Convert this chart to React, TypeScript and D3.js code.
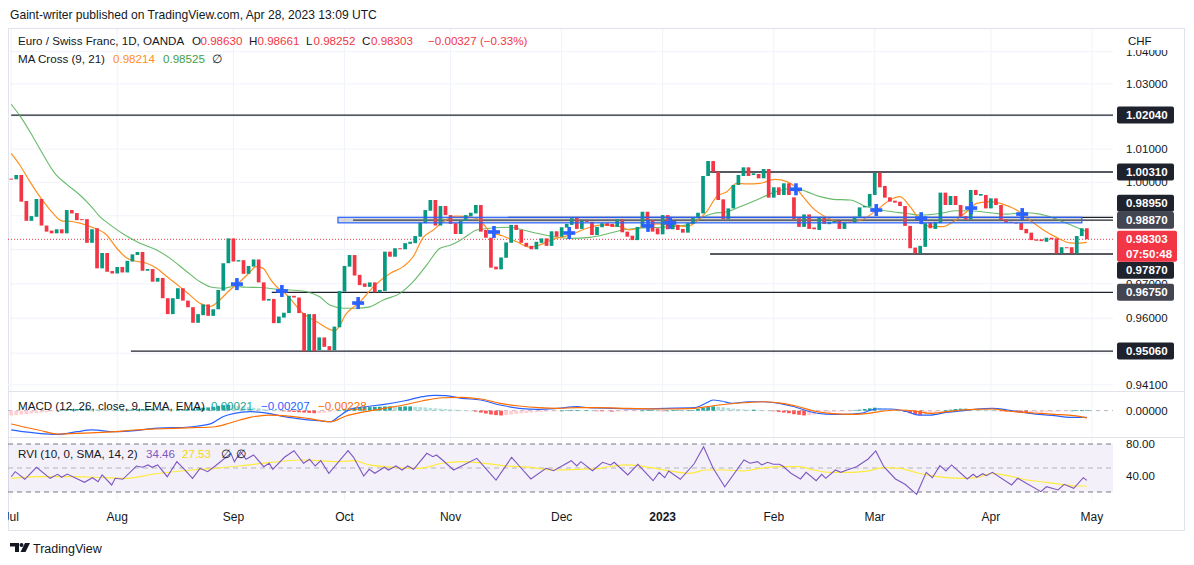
import React from 'react';
import * as d3 from 'd3';

// ---------- DATA ----------
const monthTicks: [number, string][] = [
  [0, 'Jul'], [21, 'Aug'], [44, 'Sep'], [66, 'Oct'], [87, 'Nov'], [109, 'Dec'],
  [129, '2023'], [151, 'Feb'], [171, 'Mar'], [194, 'Apr'], [214, 'May'],
];

const opens = [
  1.0011, 1.0009, 1.0022, 0.9944, 0.9885, 0.9897, 0.9950, 0.9871, 0.9856, 0.9848,
  0.9860, 0.9848, 0.9917, 0.9908, 0.9890, 0.9890, 0.9820, 0.9863, 0.9745, 0.9790,
  0.9737, 0.9730, 0.9749, 0.9733, 0.9765, 0.9784, 0.9793, 0.9738, 0.9743, 0.9706,
  0.9717, 0.9658, 0.9612, 0.9656, 0.9687, 0.9651, 0.9632, 0.9587, 0.9609, 0.9640,
  0.9607, 0.9626, 0.9680, 0.9760, 0.9833, 0.9765, 0.9769, 0.9729, 0.9750, 0.9771,
  0.9704, 0.9651, 0.9656, 0.9586, 0.9602, 0.9615, 0.9665, 0.9660, 0.9615, 0.9506,
  0.9612, 0.9509, 0.9545, 0.9520, 0.9508, 0.9574, 0.9677, 0.9750, 0.9784, 0.9726,
  0.9701, 0.9691, 0.9704, 0.9675, 0.9679, 0.9794, 0.9779, 0.9804, 0.9801, 0.9817,
  0.9819, 0.9838, 0.9878, 0.9915, 0.9947, 0.9871, 0.9929, 0.9902, 0.9878, 0.9846,
  0.9885, 0.9899, 0.9907, 0.9932, 0.9858, 0.9835, 0.9750, 0.9742, 0.9776, 0.9820,
  0.9873, 0.9858, 0.9820, 0.9811, 0.9801, 0.9820, 0.9833, 0.9811, 0.9854, 0.9838,
  0.9865, 0.9873, 0.9894, 0.9861, 0.9885, 0.9882, 0.9843, 0.9866, 0.9878, 0.9876,
  0.9867, 0.9890, 0.9853, 0.9841, 0.9828, 0.9866, 0.9912, 0.9887, 0.9863, 0.9845,
  0.9902, 0.9860, 0.9873, 0.9861, 0.9850, 0.9876, 0.9893, 0.9907, 1.0019, 1.0064,
  1.0032, 0.9949, 0.9890, 0.9922, 0.9992, 1.0019, 1.0045, 1.0022, 1.0025, 1.0012,
  1.0040, 0.9954, 0.9985, 0.9962, 0.9997, 0.9955, 0.9893, 0.9867, 0.9904, 0.9865,
  0.9858, 0.9894, 0.9875, 0.9879, 0.9885, 0.9861, 0.9882, 0.9879, 0.9897, 0.9925,
  0.9927, 0.9962, 1.0029, 0.9989, 0.9955, 0.9945, 0.9942, 0.9929, 0.9870, 0.9806,
  0.9789, 0.9808, 0.9880, 0.9861, 0.9878, 0.9969, 0.9932, 0.9959, 0.9932, 0.9899,
  0.9889, 0.9977, 0.9960, 0.9962, 0.9922, 0.9952, 0.9932, 0.9889, 0.9882, 0.9880,
  0.9879, 0.9861, 0.9850, 0.9830, 0.9830, 0.9823, 0.9835, 0.9833, 0.9789, 0.9807,
  0.9807, 0.9789, 0.9840, 0.98630,
];

const closes = [
  1.0008, 1.0022, 0.9942, 0.9885, 0.9899, 0.9950, 0.9871, 0.9853, 0.9848, 0.9860,
  0.9848, 0.9917, 0.9907, 0.9887, 0.9888, 0.9820, 0.9860, 0.9745, 0.9790, 0.9735,
  0.9730, 0.9749, 0.9733, 0.9767, 0.9786, 0.9793, 0.9738, 0.9743, 0.9706, 0.9717,
  0.9658, 0.9612, 0.9658, 0.9687, 0.9651, 0.9632, 0.9587, 0.9612, 0.9640, 0.9607,
  0.9626, 0.9682, 0.9760, 0.9833, 0.9765, 0.9769, 0.9729, 0.9752, 0.9771, 0.9704,
  0.9651, 0.9656, 0.9586, 0.9605, 0.9616, 0.9665, 0.9660, 0.9615, 0.9506, 0.9612,
  0.9506, 0.9545, 0.9518, 0.9508, 0.9576, 0.9679, 0.9752, 0.9784, 0.9724, 0.9696,
  0.9691, 0.9704, 0.9675, 0.9682, 0.9794, 0.9779, 0.9804, 0.9801, 0.9819, 0.9823,
  0.9840, 0.9880, 0.9917, 0.9947, 0.9871, 0.9929, 0.9902, 0.9876, 0.9846, 0.9887,
  0.9902, 0.9909, 0.9932, 0.9853, 0.9835, 0.9747, 0.9742, 0.9777, 0.9821, 0.9873,
  0.9858, 0.9820, 0.9809, 0.9801, 0.9823, 0.9833, 0.9811, 0.9854, 0.9838, 0.9866,
  0.9876, 0.9893, 0.9861, 0.9885, 0.9882, 0.9843, 0.9867, 0.9878, 0.9870, 0.9867,
  0.9890, 0.9851, 0.9838, 0.9828, 0.9867, 0.9912, 0.9887, 0.9853, 0.9845, 0.9902,
  0.9860, 0.9878, 0.9858, 0.9850, 0.9878, 0.9896, 0.9909, 1.0019, 1.0064, 1.0032,
  0.9947, 0.9890, 0.9922, 0.9992, 1.0022, 1.0045, 1.0019, 1.0027, 1.0012, 1.0040,
  0.9954, 0.9985, 0.9962, 0.9997, 0.9962, 0.9890, 0.9867, 0.9904, 0.9861, 0.9860,
  0.9894, 0.9876, 0.9882, 0.9885, 0.9861, 0.9882, 0.9879, 0.9897, 0.9925, 0.9929,
  0.9965, 1.0029, 0.9985, 0.9954, 0.9942, 0.9939, 0.9929, 0.9870, 0.9804, 0.9789,
  0.9811, 0.9878, 0.9863, 0.9882, 0.9969, 0.9932, 0.9959, 0.9932, 0.9897, 0.9889,
  0.9977, 0.9962, 0.9965, 0.9922, 0.9952, 0.9932, 0.9887, 0.9880, 0.9879, 0.9877,
  0.9858, 0.9848, 0.9828, 0.9826, 0.9825, 0.9835, 0.9830, 0.9789, 0.9807, 0.9805,
  0.9789, 0.9840, 0.9863, 0.98303,
];

const lastHigh = 0.98661;
const lastLow = 0.98252;
const countdown = '07:50:48';

// MA(9) and MA(21): [bar, price]
const ma9Pts: [number, number][] = [
  [0, 1.0087], [1.7, 1.0052], [3.7, 1.0002], [6.4, 0.9942], [8.3, 0.9907], [10, 0.9885], [12, 0.9883],
  [13.6, 0.9878], [15.6, 0.9868], [18.9, 0.9843], [20.9, 0.9804], [22.9, 0.9775], [24.9, 0.9765],
  [26.8, 0.976], [28.8, 0.9745], [30.8, 0.9721], [33.4, 0.9691], [35.4, 0.9667], [37.4, 0.9643],
  [39.4, 0.9634], [41.3, 0.9653], [43.3, 0.9682], [45.3, 0.9706], [47, 0.973], [48.6, 0.975],
  [49.9, 0.9745], [51.2, 0.9716], [52.9, 0.9687], [53.9, 0.9677], [57.8, 0.9614], [60.5, 0.959],
  [64.1, 0.9564], [66.4, 0.9614], [69.1, 0.9648], [71.7, 0.9691], [75, 0.973], [77.6, 0.975],
  [79.6, 0.9779], [81.6, 0.9836], [83.6, 0.9858], [85.6, 0.9883], [88.2, 0.9899], [90.9, 0.9897],
  [92.8, 0.9887], [94.8, 0.9853], [97.4, 0.984], [100.1, 0.9823], [102.7, 0.9807], [104.7, 0.9814],
  [107, 0.9829], [110.7, 0.9843], [114, 0.9863], [117.2, 0.9873], [120.6, 0.9868], [122.5, 0.9858],
  [125.2, 0.9868], [127.8, 0.9876], [131.1, 0.9873], [133.8, 0.9868], [135.7, 0.9883], [137.7, 0.9912],
  [139.7, 0.9957], [141.7, 0.9972], [143.7, 0.9997], [145.6, 0.9995], [148.3, 0.9997], [151.2, 1.0009],
  [153.6, 1.0002], [155.2, 0.9987], [156.8, 0.9957], [158.8, 0.9922], [161.5, 0.9895], [164.8, 0.988],
  [168.1, 0.9886], [171.4, 0.9917], [174, 0.9947], [176, 0.9957], [178, 0.9927], [180, 0.9887],
  [182, 0.9868], [184.6, 0.9868], [186.6, 0.9883], [189.2, 0.9912], [191.2, 0.9937], [193.8, 0.9942],
  [196.5, 0.9934], [199.1, 0.9917], [201.7, 0.9887], [204.4, 0.9858], [207, 0.9836], [209.6, 0.982],
  [211.6, 0.9819], [213, 0.98214],
];

const ma21Pts: [number, number][] = [
  [0, 1.0237], [1.7, 1.0202], [4.1, 1.0143], [6, 1.0092], [8.9, 1.0022], [11, 0.9994], [13.6, 0.9962],
  [15.6, 0.9932], [17.6, 0.9897], [19.6, 0.9873], [22.5, 0.9843], [25.5, 0.9819], [28.8, 0.9799],
  [31.4, 0.9775], [34.8, 0.9735], [37.4, 0.9706], [40, 0.9689], [42, 0.9687], [44, 0.9692],
  [46.6, 0.969], [49.3, 0.9689], [52.9, 0.9684], [55.2, 0.9682], [58.5, 0.9677], [61.1, 0.9662],
  [63.1, 0.9638], [65.8, 0.9629], [68.4, 0.9629], [71, 0.9633], [73.7, 0.9653], [77, 0.9672],
  [79.6, 0.9706], [82.3, 0.9755], [84.9, 0.9804], [87.2, 0.9814], [89.5, 0.9833], [92.2, 0.9858],
  [94.8, 0.9863], [98.8, 0.9866], [101.4, 0.9858], [104.1, 0.9848], [106.6, 0.984], [110.7, 0.9833],
  [114.6, 0.9836], [117.9, 0.9846], [121.2, 0.9858], [124.5, 0.9863], [131.1, 0.9868], [133.8, 0.9873],
  [136.4, 0.9893], [139, 0.9907], [141.7, 0.9912], [144.3, 0.9927], [147.6, 0.9947], [150.9, 0.9969],
  [154.9, 0.9983], [157.5, 0.9972], [160.2, 0.9957], [162.8, 0.9949], [166.1, 0.9947], [169.4, 0.9927],
  [173.4, 0.9914], [177.3, 0.9907], [180, 0.9902], [183.9, 0.9907], [187.2, 0.9915], [190.5, 0.9914],
  [193.8, 0.9909], [197.1, 0.9905], [200.4, 0.9909], [203.7, 0.9905], [206.4, 0.9893], [209, 0.9878],
  [213, 0.98525],
];

// MA cross markers: [bar, price]
const crossPts: [number, number][] = [
  [44.7, 0.9699], [53.6, 0.9679], [68.7, 0.9644], [95.6, 0.9852], [110.5, 0.9849], [126.1, 0.987],
  [130.5, 0.9879], [155.4, 0.9979], [171.3, 0.9917], [180.2, 0.9893], [190.1, 0.9923], [200.2, 0.9905],
];

// Horizontal drawings: price, starting bar
const levelPrices = [1.0204, 1.0031, 0.9895, 0.9887, 0.9787, 0.9675, 0.9506];
const levelStarts = [0, 138.4, 98.4, 67.7, 138.4, 51.6, 23.7];
const zone = { top: 0.98955, bottom: 0.9879, from: 64.7, to: 212 };

const priceTicks = [1.04, 1.03, 1.02, 1.01, 1.0, 0.99, 0.98, 0.97, 0.96, 0.95, 0.941];

// MACD
const macdPts: [number, number][] = [
  [0, -0.006], [2.3, -0.00655], [5.4, -0.00705], [9.2, -0.00736], [13, -0.00655], [16, -0.006],
  [20.6, -0.00655], [24.4, -0.00624], [28.3, -0.0055], [32, -0.00531], [35.8, -0.005], [39.7, -0.00394],
  [41.9, -0.00189], [44.2, -0.00084], [47.3, -0.00034], [51, -0.00084], [54.1, -0.00189], [57.9, -0.0027],
  [61, -0.00314], [63.3, -0.00345], [64.8, -0.00189], [67.1, 0.0004], [70.1, 0.00121], [73.9, 0.00196],
  [77.7, 0.00298], [81.5, 0.00432], [83.8, 0.00475], [86.1, 0.00463], [89.2, 0.00382], [93, 0.00329],
  [96.8, 0.00174], [100.6, 0.00071], [104.4, 0.0004], [108.2, 0.00071], [112, 0.00121], [114.4, 0.0009],
  [119.1, 0.00071], [123.7, 0.0005], [129.8, 0.00071], [135.2, 0.0009], [137.5, 0.00227], [139, 0.00329],
  [140.6, 0.00298], [142.9, 0.00227], [145.9, 0.00276], [149, 0.00276], [152.1, 0.00227], [155.1, 0.00121],
  [158.2, -0.00034], [161.3, -0.00106], [165.1, -0.00115], [168.2, -0.00084], [171.3, 0.0005], [174.3, 0.0005],
  [177.4, -0.00034], [179.7, -0.00137], [182, -0.00137], [185.1, -0.00053], [188.1, -0.00012], [191.2, 0.0005],
  [194.3, 0.00071], [197.3, 0.00019], [200.4, -0.00053], [203.5, -0.00115], [206.6, -0.00158], [209.6, -0.00208],
  [213, -0.00207],
];
const signalPts: [number, number][] = [
  [0, -0.00416], [2.3, -0.005], [5.4, -0.00602], [9.2, -0.00726], [13, -0.00705], [16.8, -0.00686],
  [20.6, -0.00655], [24.4, -0.00602], [28.3, -0.00571], [32, -0.0055], [35.8, -0.00531], [40.4, -0.005],
  [43.5, -0.00376], [47.3, -0.00208], [51, -0.00137], [54.9, -0.00168], [58.7, -0.00239], [63.3, -0.00345],
  [66.3, -0.00168], [70.1, -0.00034], [73.9, 0.00071], [77.7, 0.00174], [81.5, 0.00307], [85.4, 0.004],
  [89.2, 0.00413], [93, 0.0036], [96.8, 0.00227], [100.6, 0.00143], [104.4, 0.0009], [108.2, 0.00071],
  [112, 0.0009], [115.8, 0.0009], [122.1, 0.00071], [129.8, 0.0005], [135.2, 0.00071], [139, 0.00152],
  [142.1, 0.00205], [145.1, 0.00245], [149, 0.00276], [152.8, 0.00227], [155.9, 0.00121], [159, -0.00012],
  [162, -0.00084], [166.7, -0.00115], [169.7, -0.00084], [172.8, -0.00012], [175.9, 0.00019], [179, -0.00012],
  [182, -0.00084], [185.1, -0.00034], [188.1, 0.00019], [191.2, 0.0004], [194.3, 0.0005], [197.3, -0.00012],
  [200.4, -0.00053], [203.5, -0.00084], [206.6, -0.00115], [210.4, -0.00158], [213, -0.00228],
];
const macdHist = [
  -0.0015, -0.0014, -0.0012, -0.0011, -0.0009, -0.0008, -0.0006, -0.0005, -0.0003, -0.0001,
  0.0002, 0.0003, 0.0004, 0.0005, 0.0005, 0.0006, 0.0005, 0.0004, 0.0003, 0.0002, 0.0001, 0.0001, 0.0002, 0.0003, 0.0004, 0.0004,
  0.0005, 0.0006, 0.0006, 0.0005, 0.0005, 0.0004, 0.0003, 0.0003, 0.0004, 0.0005, 0.0006, 0.0008, 0.0009, 0.001, 0.0012, 0.0015,
  0.0017, 0.0018, 0.0017, 0.0015, 0.0013, 0.0011, 0.0009, 0.0007, 0.0005, 0.0004, 0.0002, 0.0,
  -0.0002, -0.0003, -0.0004, -0.0005, -0.0006, -0.0007, -0.0008, -0.0008, -0.0007, -0.0005, -0.0002, 0.0002, 0.0005,
  0.0007, 0.0009, 0.001, 0.0011, 0.0011, 0.0012, 0.0012, 0.0013, 0.0013, 0.0012, 0.0012, 0.0013, 0.0013, 0.0012, 0.0011, 0.001, 0.0008, 0.0007,
  0.0006, 0.0005, 0.0004, 0.0003, 0.0002, 0.0001, 0.0, -0.0003, -0.0006, -0.0009,
  -0.0012, -0.0014, -0.0015, -0.0014, -0.0012, -0.001, -0.0008, -0.0007, -0.0006, -0.0005, -0.0004, -0.0003, -0.0002, -0.0001, 0.0, 0.0001, 0.0002, 0.0002, 0.0001,
  0.0001, 0.0, -0.0001, -0.0002, -0.0002, -0.0003, -0.0003, -0.0002, -0.0002, -0.0001, -0.0001, 0.0, 0.0001, 0.0001, 0.0, -0.0001, 0.0, 0.0001, 0.0001, 0.0, 0.0001, 0.0002,
  0.0005, 0.0008, 0.0011, 0.0013, 0.0012, 0.001, 0.0008, 0.0006, 0.0005, 0.0004, 0.0003, 0.0003, 0.0002, 0.0001, 0.0,
  -0.0002, -0.0004, -0.0006, -0.0008, -0.0011, -0.0013, -0.0015, -0.0014, -0.0012, -0.001, -0.0008, -0.0006, -0.0004, -0.0003, -0.0002, -0.0001, 0.0001, 0.0003,
  0.0005, 0.0007, 0.0009, 0.0008, 0.0006, 0.0004, 0.0002, 0.0,
  -0.0004, -0.0008, -0.0012, -0.0013, -0.0011, -0.0008, -0.0005,
  -0.0002, 0.0001, 0.0003, 0.0005, 0.0006, 0.0006, 0.0005, 0.0004, 0.0003, 0.0002, 0.0001, 0.0, -0.0001,
  -0.0003, -0.0004, -0.0005, -0.0006, -0.0007, -0.0007, -0.0006, -0.0006, -0.0005, -0.0004, -0.0003, -0.0002, -0.0001,
  0.0, 0.0001, 0.0002, 0.00021,
];

// RVI
const rviPts: [number, number][] = [
  [0, 39.1], [0.8, 45.4], [2.7, 35.9], [5, 50.9], [7.7, 37.1], [9.2, 42.1], [10, 38.4], [11.1, 42.5],
  [14.5, 32.1], [16.1, 37.9], [17.2, 32.9], [18, 41.3], [19.9, 28.8], [20.6, 37.1], [22.1, 35.9],
  [24.8, 52.5], [26, 50.9], [27.1, 53.8], [27.9, 50.9], [29, 53.8], [30.9, 39.1], [32.8, 57.9],
  [34.3, 48.4], [35.9, 37.1], [37.4, 49.6], [38.9, 45.4], [40.4, 52.5], [43.5, 68.4], [44.2, 57.9],
  [45.4, 70.4], [46.5, 60.9], [48, 66.3], [50, 51.6], [51.1, 55.9], [51.8, 48.4], [54.1, 63.4],
  [56, 71.6], [57.9, 55.9], [59.1, 60.9], [60.2, 52.5], [61.3, 59.1], [62.9, 43.4], [66.7, 71.6],
  [67.8, 63.4], [69.8, 40], [70.9, 48.4], [72, 43.4], [73.9, 50.9], [74.7, 47.5], [76.2, 52.5],
  [77.4, 47.5], [78.5, 52.5], [79.7, 48.4], [82.3, 68.4], [83.5, 64.1], [84.2, 66.3], [85.4, 60],
  [87.6, 47.5], [92.2, 62.1], [96, 35], [99.1, 63.4], [100.6, 52.5], [102.9, 36.3], [105.9, 49.6],
  [107.4, 46.6], [110.9, 59.1], [112, 52.5], [112.8, 57.9], [115.1, 46.6], [117.1, 57.1], [118.7, 53.8],
  [119.4, 57.1], [122.1, 41.3], [124.1, 54.6], [127.1, 34.1], [128.3, 44.6], [129.4, 37.9], [130.2, 46.3],
  [132.5, 35.9], [135.2, 55], [137.1, 76.6], [139, 49.6], [141.3, 26.6], [145.1, 60], [146.3, 55.9],
  [147.8, 57.9], [148.6, 53.8], [149.8, 57.1], [150.9, 54.6], [152.1, 54.6], [152.8, 52.5], [154.4, 43.4],
  [156.3, 36.3], [157.4, 44.6], [159.4, 34.1], [160.5, 42.1], [161.3, 37.1], [163.2, 47.5], [164.3, 44.6],
  [165.5, 47.5], [167.4, 51.6], [169.7, 61.3], [171.2, 71.3], [172.8, 51.6], [175.1, 36.3], [177, 29.6],
  [179.3, 17.1], [181.2, 44.6], [182.4, 37.9], [183.9, 52.9], [185.1, 46.3], [186.2, 53.8], [189.3, 36.3],
  [190.5, 42.1], [191.2, 38.4], [192.4, 42.9], [193.1, 40.4], [194.3, 44.6], [198.1, 28.8], [199.3, 37.1],
  [203.9, 20.4], [205, 26.6], [207.3, 22.5], [208.5, 29.6], [210.4, 24.6], [212.3, 37.9], [213, 34.46],
];
const rviSignalPts: [number, number][] = [
  [0, 37.1], [5.4, 39.1], [13, 39.1], [18.4, 37.9], [22.9, 37.1], [28.3, 42.5], [35.8, 47.5], [40.4, 49.6],
  [45, 52.5], [51, 56.6], [57.2, 60], [61, 59.1], [64.8, 57.9], [67.8, 59.1], [70.9, 53.8], [75.5, 50.9],
  [80.8, 49.6], [85.4, 55.9], [89.2, 57.9], [93.7, 55.9], [98.3, 52.5], [102.9, 50.9], [107.4, 47.5],
  [112, 48.4], [116.6, 49.6], [118.3, 51.6], [122.1, 53.8], [126.7, 50.4], [131.3, 45.4], [134.4, 43.4],
  [137.5, 47.5], [141.3, 47.5], [145.1, 46.3], [148.2, 49.6], [152.8, 51.6], [155.9, 51.6], [159, 47.5],
  [162, 44.6], [166.7, 44.6], [169.7, 46.3], [172.8, 50.4], [175.9, 49.6], [179.7, 43.4], [183.5, 39.1],
  [188.1, 37.1], [191.2, 37.9], [194.3, 43.4], [197.3, 40.4], [201.2, 35], [205, 32.1], [208.8, 28.8],
  [211.1, 27.5], [213, 27.53],
];
const rviBands = [80, 50, 20];

// ---------- LAYOUT / STYLE ----------
const W = 1194, H = 565;
const FONT = '"Liberation Sans", Arial, sans-serif';
const TXT = '#131722';
const UP = '#089981', DOWN = '#f23645';
const FL = 8, FR = 1185, FT = 28, FB = 531;
const PR = 1113;
const mainTop = 29, mainBot = 391, macdBot = 437, rviBot = 500;
const GRID = '#f0f3fa';
const LEG = 11.6;
const lighter = new Set([0.9887, 0.9675]);

export default function App() {
  const n = closes.length;
  const x = d3.scaleLinear().domain([0, 213]).range([11.2, 1086.85]);
  const y = d3.scaleLog().domain([1.0, 0.95]).range([182.3, 353.16]);
  const yM = d3.scaleLinear().domain([-0.0085, 0.0064]).range([438, 390]);
  const yR = d3.scaleLinear().domain([80, 20]).range([444, 492]);
  const f5 = d3.format('.5f');
  const f2 = d3.format('.2f');
  const minus = (s: string) => s.replace('-', '\u2212');

  const smooth = (sc: any) => d3.line<[number, number]>().x(d => x(d[0])).y(d => sc(d[1])).curve(d3.curveMonotoneX);
  const straight = (sc: any) => d3.line<[number, number]>().x(d => x(d[0])).y(d => sc(d[1]));

  const last = closes[n - 1];
  const change = last - closes[n - 2];
  const pct = (change / closes[n - 2]) * 100;

  // price labels with collision avoidance around the current price label
  const curY = y(last);
  const curTop = curY - 8.5, curBot = curY + 22.5;
  const LH = 17;
  const lab = levelPrices.map(p => ({ p, yc: y(p) }));
  const above = lab.filter(l => l.yc < curY).sort((a, b) => b.yc - a.yc);
  const below = lab.filter(l => l.yc >= curY).sort((a, b) => a.yc - b.yc);
  let lim = curTop;
  const placed: { p: number; yc: number }[] = [];
  above.forEach(l => {
    const bot = Math.min(l.yc + LH / 2, lim);
    placed.push({ p: l.p, yc: bot - LH / 2 });
    lim = bot - LH;
  });
  lim = curBot;
  below.forEach(l => {
    const top = Math.max(l.yc - LH / 2, lim);
    placed.push({ p: l.p, yc: top + LH / 2 });
    lim = top + LH;
  });
  // tick labels that sit completely under a label box are not drawn
  const hidden = (ty: number) =>
    placed.some(l => Math.abs(l.yc - ty) < 6) || (ty > curTop + 4 && ty < curBot - 4);

  const bw = 3.7;

  return (
    <svg width={W} height={H} style={{ position: 'absolute', left: 0, top: 0, background: '#fff' }} fontFamily={FONT}>
      <defs>
        <clipPath id="frame"><rect x={FL} y={FT} width={FR - FL} height={FB - FT} /></clipPath>
        <clipPath id="main"><rect x={FL} y={mainTop} width={PR - FL} height={mainBot - mainTop} /></clipPath>
        <clipPath id="macd"><rect x={FL} y={mainBot} width={PR - FL} height={macdBot - mainBot} /></clipPath>
        <clipPath id="rvi"><rect x={FL} y={macdBot} width={PR - FL} height={rviBot - macdBot} /></clipPath>
      </defs>
      <rect width={W} height={H} fill="#fff" />
      <text x={10} y={18.5} fontSize={12.1} fill={TXT}>Gaint-writer published on TradingView.com, Apr 28, 2023 13:09 UTC</text>

      {/* frame */}
      <rect x={FL + 0.5} y={FT + 0.5} width={FR - FL - 1} height={FB - FT - 1} fill="none" stroke="#e0e3eb" />

      {/* RVI background */}
      <rect x={FL} y={yR(80)} width={PR - FL} height={yR(20) - yR(80)} fill="#7e57c2" fillOpacity={0.09} />

      {/* vertical grid */}
      <g clipPath="url(#frame)">
        {monthTicks.map(([i, l]) => (
          <line key={l} x1={x(i)} x2={x(i)} y1={mainTop} y2={rviBot} stroke={GRID} strokeWidth={1} />
        ))}
      </g>
      {/* horizontal grid */}
      <g clipPath="url(#main)">
        {priceTicks.map(p => (
          <line key={p} x1={FL} x2={PR} y1={y(p)} y2={y(p)} stroke={GRID} />
        ))}
      </g>

      {/* pane separators */}
      <line x1={FL} x2={FR} y1={mainBot + 0.5} y2={mainBot + 0.5} stroke="#e0e3eb" />
      <line x1={FL} x2={FR} y1={macdBot + 0.5} y2={macdBot + 0.5} stroke="#e0e3eb" />

      {/* MAIN PANE */}
      <g clipPath="url(#main)">
        {levelPrices.map((p, k) => (
          <line key={p} x1={x(levelStarts[k])} x2={PR} y1={y(p)} y2={y(p)} stroke="#1e222d" strokeWidth={1.3} />
        ))}
        <line x1={FL} x2={PR} y1={curY} y2={curY} stroke={DOWN} strokeWidth={1} strokeDasharray="1,2" />
        <path d={smooth(y)(ma21Pts) || ''} fill="none" stroke="#4caf50" strokeOpacity={0.85} strokeWidth={1.1} />
        <path d={smooth(y)(ma9Pts) || ''} fill="none" stroke="#ff8f1f" strokeWidth={1.2} />
        {closes.map((c, i) => {
          const o = opens[i];
          const top = Math.min(y(o), y(c));
          const h = Math.max(1, Math.abs(y(o) - y(c)));
          return <rect key={i} x={x(i) - bw / 2} y={top} width={bw} height={h} fill={c >= o ? UP : DOWN} />;
        })}
        <rect x={x(zone.from)} y={y(zone.top)} width={x(zone.to) - x(zone.from)} height={y(zone.bottom) - y(zone.top)}
          fill="#787b86" fillOpacity={0.3} stroke="#2962ff" strokeWidth={1.2} />
        {crossPts.map(([i, p], k) => (
          <g key={k} transform={`translate(${x(i)},${y(p)})`} fill="#2962ff">
            <rect x={-6} y={-1.8} width={12} height={3.6} />
            <rect x={-1.8} y={-6} width={3.6} height={12} />
          </g>
        ))}
      </g>

      {/* MACD PANE */}
      <g clipPath="url(#macd)">
        <line x1={FL} x2={PR} y1={yM(0)} y2={yM(0)} stroke="#b2b5be" strokeDasharray="4,4" />
        {macdHist.map((v, i) => {
          const prev = i > 0 ? macdHist[i - 1] : v;
          const col = v >= 0 ? (v >= prev ? '#26a69a' : '#b2dfdb') : (v < prev ? '#ff5252' : '#ffcdd2');
          const y0 = yM(0), y1 = yM(v);
          return <rect key={i} x={x(i) - bw / 2} y={Math.min(y0, y1)} width={bw} height={Math.max(0.6, Math.abs(y1 - y0))} fill={col} />;
        })}
        <path d={smooth(yM)(macdPts) || ''} fill="none" stroke="#2962ff" strokeWidth={1.2} />
        <path d={smooth(yM)(signalPts) || ''} fill="none" stroke="#ff6d00" strokeWidth={1.2} />
      </g>

      {/* RVI PANE */}
      <g clipPath="url(#rvi)">
        {rviBands.map(b => (
          <line key={b} x1={FL} x2={PR} y1={yR(b)} y2={yR(b)} stroke={b === 50 ? '#b2b5be' : '#787b86'} strokeDasharray="5,4" />
        ))}
        <path d={smooth(yR)(rviSignalPts) || ''} fill="none" stroke="#ffeb3b" strokeWidth={1.2} />
        <path d={straight(yR)(rviPts) || ''} fill="none" stroke="#7e57c2" strokeWidth={1.1} />
      </g>

      {/* time axis */}
      <g clipPath="url(#frame)">
        {monthTicks.map(([i, l]) => (
          <text key={l} x={x(i)} y={521} fontSize={12} fill={TXT} textAnchor="middle" fontWeight={l === '2023' ? 'bold' : 'normal'}>{l}</text>
        ))}
      </g>

      {/* price axis ticks */}
      {priceTicks.filter(p => !hidden(y(p))).map(p => (
        <text key={p} x={1126} y={y(p) + 4} fontSize={11.5} fill={TXT}>{f5(p)}</text>
      ))}
      <rect x={PR} y={FT + 1} width={FR - PR - 2} height={50 - FT - 1} fill="#fff" />
      <text x={1128} y={45} fontSize={11.5} fill={TXT}>CHF</text>
      <text x={1126} y={yM(0) + 4} fontSize={11.5} fill={TXT}>{f5(0)}</text>
      <text x={1126} y={yR(80) + 4} fontSize={11.5} fill={TXT}>{f2(80)}</text>
      <text x={1126} y={yR(40) + 4} fontSize={11.5} fill={TXT}>{f2(40)}</text>

      {/* level labels */}
      {placed.map(l => (
        <g key={l.p}>
          <rect x={1117} y={l.yc - LH / 2} width={57} height={LH} rx={2} fill={lighter.has(l.p) ? '#434651' : '#1e222d'} />
          <text x={1126} y={l.yc + 4} fontSize={11.5} fontWeight="bold" fill="#fff">{f5(l.p)}</text>
        </g>
      ))}
      <rect x={1117} y={curTop} width={60} height={curBot - curTop} rx={2} fill={DOWN} />
      <text x={1126} y={curY + 4} fontSize={11.5} fontWeight="bold" fill="#fff">{f5(last)}</text>
      <text x={1126} y={curY + 19} fontSize={11.5} fontWeight="bold" fill="#fff">{countdown}</text>

      {/* legends */}
      <text y={45} fontSize={LEG} fill={TXT}>
        <tspan x={18}>Euro / Swiss Franc, 1D, OANDA</tspan>
        <tspan x={192}>O</tspan><tspan x={200.5} fill={DOWN}>{f5(opens[n - 1])}</tspan>
        <tspan x={249}>H</tspan><tspan x={257.5} fill={DOWN}>{f5(lastHigh)}</tspan>
        <tspan x={306}>L</tspan><tspan x={313.5} fill={DOWN}>{f5(lastLow)}</tspan>
        <tspan x={362}>C</tspan><tspan x={371} fill={DOWN}>{f5(last)}</tspan>
        <tspan x={428} fill={DOWN}>{minus(f5(change))} ({minus(f2(pct))}%)</tspan>
      </text>
      <text y={63} fontSize={LEG} fill={TXT}>
        <tspan x={18}>MA Cross (9, 21)</tspan>
        <tspan x={113} fill="#ff8f1f">{f5(ma9Pts[ma9Pts.length - 1][1])}</tspan>
        <tspan x={163} fill="#43a047">{f5(ma21Pts[ma21Pts.length - 1][1])}</tspan>
        <tspan x={212}>∅</tspan>
      </text>
      <text y={409.5} fontSize={LEG} fill={TXT}>
        <tspan x={18}>MACD (12, 26, close, 9, EMA, EMA)</tspan>
        <tspan x={211} fill="#26a69a">{f5(macdHist[macdHist.length - 1])}</tspan>
        <tspan x={261} fill="#2962ff">{minus(f5(macdPts[macdPts.length - 1][1]))}</tspan>
        <tspan x={318} fill="#ff6d00">{minus(f5(signalPts[signalPts.length - 1][1]))}</tspan>
      </text>
      <text y={457.5} fontSize={LEG} fill={TXT}>
        <tspan x={18}>RVI (10, 0, SMA, 14, 2)</tspan>
        <tspan x={146} fill="#7e57c2">{f2(rviPts[rviPts.length - 1][1])}</tspan>
        <tspan x={182} fill="#f5d90a">{f2(rviSignalPts[rviSignalPts.length - 1][1])}</tspan>
        <tspan x={221}>∅</tspan>
        <tspan x={236}>∅</tspan>
      </text>

      {/* footer logo */}
      <g fill={TXT}>
        <path d="M10 543 h9 v9 h-4 v-5.5 h-5 z" />
        <circle cx={21.5} cy={545} r={2} />
        <path d="M25 543 h5 l-4.5 9 h-5 z" />
      </g>
      <text x={33} y={552.5} fontSize={12.5} fill={TXT}>TradingView</text>
    </svg>
  );
}
